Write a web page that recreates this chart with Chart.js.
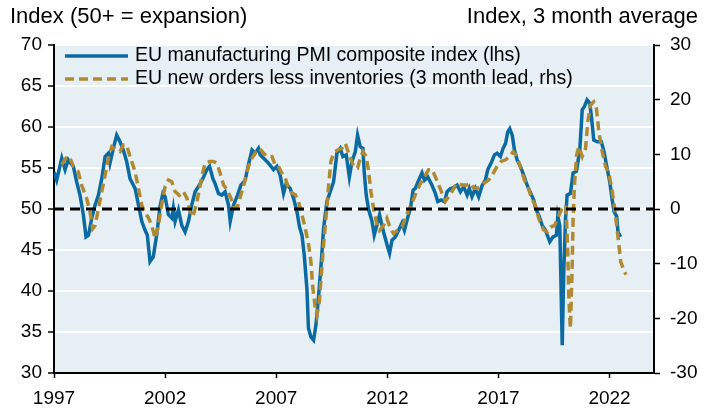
<!DOCTYPE html>
<html>
<head>
<meta charset="utf-8">
<script src="https://cdn.jsdelivr.net/npm/chart.js@4"></script>
<style>
  html, body { margin: 0; padding: 0; background: #fff; }
  #wrap { width: 716px; height: 409px; }
</style>
</head>
<body>
<div id="wrap"><canvas id="pmiChart" width="716" height="409"></canvas></div>
<script>
// EU manufacturing PMI composite index (lhs), monthly
var pmiYears = [1997.00,1997.12,1997.35,1997.50,1997.64,1997.87,1998.02,1998.17,1998.32,1998.44,1998.55,1998.70,1998.85,
  1999.00,1999.15,1999.30,1999.45,1999.52,1999.67,1999.82,1999.97,2000.12,2000.27,2000.42,2000.65,2000.80,2000.95,
  2001.10,2001.20,2001.32,2001.47,2001.63,2001.77,2001.90,2002.00,2002.15,2002.30,2002.37,2002.45,2002.60,2002.75,2002.90,
  2003.05,2003.20,2003.35,2003.58,2003.73,2003.88,2004.00,2004.15,2004.25,2004.40,2004.55,2004.70,2004.85,2004.93,
  2005.08,2005.26,2005.41,2005.60,2005.75,2005.91,2006.05,2006.20,2006.28,2006.50,2006.65,2006.88,2007.03,2007.18,
  2007.33,2007.45,2007.63,2007.78,2007.93,2008.05,2008.16,2008.26,2008.38,2008.45,2008.56,2008.68,2008.79,2008.91,
  2009.03,2009.13,2009.28,2009.43,2009.58,2009.73,2009.88,2010.00,2010.15,2010.29,2010.41,2010.56,2010.66,2010.78,
  2010.90,2010.96,2011.05,2011.16,2011.31,2011.41,2011.53,2011.65,2011.76,2011.83,2011.99,2012.10,2012.21,2012.36,
  2012.51,2012.66,2012.77,2012.91,2013.04,2013.16,2013.26,2013.41,2013.56,2013.67,2013.82,2014.01,2014.16,2014.27,
  2014.42,2014.57,2014.69,2014.84,2014.99,2015.14,2015.29,2015.44,2015.59,2015.69,2015.81,2015.96,2016.11,2016.27,
  2016.41,2016.52,2016.67,2016.82,2016.94,2017.09,2017.21,2017.32,2017.42,2017.51,2017.62,2017.72,2017.84,2017.99,
  2018.14,2018.29,2018.44,2018.59,2018.67,2018.82,2018.97,2019.12,2019.20,2019.31,2019.46,2019.61,2019.67,2019.76,
  2019.87,2019.94,2020.02,2020.09,2020.24,2020.36,2020.51,2020.66,2020.77,2020.87,2020.99,2021.11,2021.19,2021.29,
  2021.45,2021.63,2021.75,2021.86,2022.01,2022.12,2022.20,2022.32,2022.38,2022.50];
var pmiValues = [54.5,53.5,56.2,54.8,56.0,55.2,53.3,51.7,49.3,46.6,46.8,48.9,50.5,
  51.7,53.7,56.4,56.8,55.6,57.4,59.0,58.2,57.2,55.8,53.7,52.5,50.5,48.5,
  47.4,46.8,43.6,44.2,47.0,50.3,51.9,51.5,49.3,48.9,50.1,48.5,49.9,48.0,47.2,
  48.5,50.5,52.1,53.1,53.9,54.8,55.2,53.7,53.1,51.9,51.7,52.1,50.5,48.5,
  50.5,51.7,52.9,53.5,55.4,57.2,56.8,57.4,56.6,56.0,55.6,54.8,55.2,54.1,
  51.9,53.1,52.5,51.3,49.7,47.8,46.8,44.4,40.3,35.5,34.4,34.0,35.9,39.5,
  43.6,47.6,50.9,52.1,53.3,56.8,57.4,56.4,56.6,53.9,55.8,57.0,59.0,57.6,
  57.4,54.5,51.7,49.9,48.5,46.8,48.0,49.3,48.0,47.2,45.6,44.6,46.2,46.6,
  47.4,48.3,47.4,48.9,50.1,52.3,52.5,53.5,54.4,53.5,53.9,52.9,51.9,50.9,
  51.1,50.9,52.1,52.5,52.6,52.9,52.1,52.7,51.7,52.5,51.5,52.5,51.5,52.9,
  53.5,54.8,55.6,56.6,56.8,56.4,57.4,58.0,59.4,59.8,59.0,57.2,56.0,55.2,
  54.1,52.9,52.0,51.1,50.1,49.2,48.0,47.4,46.8,46.0,46.6,46.8,49.1,48.0,
  33.4,42.4,48.9,51.7,51.9,54.4,54.6,57.2,62.1,62.5,63.3,62.9,61.1,58.4,
  58.2,58.2,57.0,55.4,53.3,51.1,49.7,49.1,47.2,46.6];

// EU new orders less inventories, 3 month lead (rhs)
var noiYears = [1997.35,1997.54,1997.69,1997.87,1998.09,1998.25,1998.47,1998.62,1998.74,1998.85,1999.00,1999.15,1999.30,
  1999.45,1999.60,1999.82,1999.97,2000.12,2000.27,2000.42,2000.65,2000.80,2000.95,2001.10,2001.25,2001.40,2001.55,
  2001.70,2001.84,2002.00,2002.15,2002.30,2002.45,2002.64,2002.82,2002.98,2003.13,2003.25,2003.40,2003.55,2003.70,
  2003.80,2004.00,2004.18,2004.33,2004.48,2004.63,2004.79,2004.96,2005.11,2005.26,2005.41,2005.60,2005.75,2005.91,
  2006.10,2006.25,2006.43,2006.58,2006.81,2006.95,2007.10,2007.26,2007.41,2007.55,2007.71,2007.86,2008.00,2008.16,
  2008.31,2008.46,2008.56,2008.65,2008.76,2008.83,2008.94,2009.03,2009.13,2009.25,2009.36,2009.46,2009.58,2009.76,
  2009.96,2010.11,2010.26,2010.48,2010.66,2010.78,2010.90,2011.05,2011.16,2011.26,2011.38,2011.50,2011.65,2011.83,
  2011.98,2012.14,2012.28,2012.46,2012.66,2012.81,2012.96,2013.11,2013.26,2013.49,2013.67,2013.86,2014.01,2014.16,
  2014.31,2014.46,2014.61,2014.76,2014.91,2015.11,2015.36,2015.59,2015.74,2015.89,2016.05,2016.19,2016.34,2016.56,
  2016.76,2016.94,2017.12,2017.32,2017.51,2017.66,2017.84,2018.02,2018.17,2018.32,2018.52,2018.67,2018.82,2019.03,
  2019.20,2019.35,2019.53,2019.67,2019.82,2019.94,2020.04,2020.12,2020.16,2020.21,2020.24,2020.27,2020.32,2020.36,
  2020.42,2020.52,2020.62,2020.77,2020.92,2021.02,2021.14,2021.29,2021.41,2021.52,2021.67,2021.82,2021.97,2022.12,
  2022.23,2022.32,2022.42,2022.50,2022.66,2022.74];
var noiValues = [8.1,9.3,9.6,7.8,6.8,4.3,1.9,-0.5,-3.6,-3.0,0.1,3.2,6.2,
  9.3,11.4,10.8,10.5,11.7,11.7,9.6,6.8,3.8,0.7,-0.8,-1.6,-3.0,-5.4,
  -3.0,0.7,4.1,5.3,5.0,3.2,2.5,3.2,2.0,-0.5,-1.4,0.7,3.8,6.8,
  8.4,8.7,8.7,8.4,6.5,4.4,3.5,2.0,0.1,0.5,2.6,5.3,7.8,9.3,
  10.5,11.1,10.2,9.6,9.6,8.1,7.8,6.5,5.6,3.8,2.9,2.6,1.4,-1.1,
  -3.6,-6.6,-9.6,-14.5,-18.2,-19.4,-17.0,-12.0,-6.6,-1.1,4.4,8.7,10.2,10.8,
  11.1,12.0,10.2,7.8,7.5,9.3,10.5,9.6,6.8,3.2,0.1,-2.3,-3.9,-3.0,
  -1.7,-3.6,-4.5,-3.9,-3.3,-1.7,-0.2,1.1,2.6,4.7,5.9,7.2,7.2,5.9,
  4.4,2.9,1.4,2.3,3.2,4.7,4.4,4.4,4.7,3.8,3.8,4.1,4.7,5.3,
  6.5,7.8,8.7,9.0,9.6,10.5,9.6,7.2,5.3,4.1,1.7,0.6,-1.8,-3.8,
  -4.2,-3.3,-3.0,-1.7,-0.2,0.7,0.3,-7.8,-15.2,-19.9,-21.8,-17.5,-10.2,-1.7,
  4.4,9.9,11.4,9.6,11.1,15.9,19.0,19.6,18.4,14.1,10.5,7.8,6.5,3.2,
  0.1,-3.0,-6.6,-9.6,-11.4,-12.0];

var xTicks = [1997, 2002, 2007, 2012, 2017, 2022];
var refYears = [1997, 2024];
var refLevel = [50, 50];

var labelFont = { family: "'Liberation Sans', Arial, sans-serif", size: 19 };

function toPoints(xs, ys) {
    return xs.map(function (x, i) { return { x: x, y: ys[i] }; });
}

const plotBackground = {
    id: 'plotBackground',
    beforeDraw(chart) {
        const a = chart.chartArea;
        const ctx = chart.ctx;
        ctx.save();
        ctx.fillStyle = '#e6eff3';
        ctx.fillRect(a.left, a.top, a.right - a.left, a.bottom - a.top);
        ctx.restore();
    }
};

const textBits = {
    id: 'textBits',
    afterDraw(chart) {
        const ctx = chart.ctx;
        const a = chart.chartArea;
        ctx.save();
        ctx.fillStyle = '#000';
        ctx.font = "22px 'Liberation Sans', Arial, sans-serif";
        ctx.textBaseline = 'middle';
        ctx.textAlign = 'left';
        ctx.fillText('Index (50+ = expansion)', 10, 17);
        ctx.textAlign = 'right';
        ctx.fillText('Index, 3 month average', 698, 17);

        // legend
        ctx.textAlign = 'left';
        ctx.font = "19.5px 'Liberation Sans', Arial, sans-serif";
        ctx.lineWidth = 3.5;
        ctx.strokeStyle = '#0b6aa2';
        ctx.beginPath(); ctx.moveTo(a.left + 11, 56); ctx.lineTo(a.left + 74, 56); ctx.stroke();
        ctx.fillText('EU manufacturing PMI composite index (lhs)', a.left + 81, 56);
        ctx.strokeStyle = '#b08a33';
        ctx.lineWidth = 3.5;
        ctx.setLineDash([9, 5]);
        ctx.beginPath(); ctx.moveTo(a.left + 11, 79); ctx.lineTo(a.left + 74, 79); ctx.stroke();
        ctx.setLineDash([]);
        ctx.fillText('EU new orders less inventories (3 month lead, rhs)', a.left + 81, 79);
        ctx.restore();
    }
};

new Chart(document.getElementById('pmiChart').getContext('2d'), {
    type: 'line',
    data: {
        datasets: [
            {
                label: 'ref',
                data: toPoints(refYears, refLevel),
                borderColor: '#000',
                borderWidth: 3,
                borderDash: [10, 6],
                pointRadius: 0,
                yAxisID: 'y',
                order: 0
            },
            {
                label: 'EU new orders less inventories (3 month lead, rhs)',
                data: toPoints(noiYears, noiValues),
                borderColor: '#b08a33',
                borderWidth: 3.5,
                borderDash: [9, 5],
                pointRadius: 0,
                tension: 0,
                yAxisID: 'y2',
                order: 1
            },
            {
                label: 'EU manufacturing PMI composite index (lhs)',
                data: toPoints(pmiYears, pmiValues),
                borderColor: '#0b6aa2',
                borderWidth: 3.5,
                pointRadius: 0,
                tension: 0,
                yAxisID: 'y',
                order: 2
            }
        ]
    },
    options: {
        responsive: false,
        animation: false,
        layout: { padding: { top: 45, left: 0, right: 0, bottom: 0 } },
        plugins: {
            legend: { display: false },
            title: { display: false },
            tooltip: { enabled: false }
        },
        scales: {
            x: {
                type: 'linear',
                min: 1997,
                max: 2024,
                afterBuildTicks: function (s) { s.ticks = xTicks.map(function (v) { return { value: v }; }); },
                afterFit: function (s) { s.height = 36; },
                grid: { drawOnChartArea: false, tickColor: '#000', tickLength: 5, tickWidth: 1.5 },
                border: { color: '#000', width: 2 },
                ticks: {
                    color: '#000', font: labelFont, padding: 9, maxRotation: 0,
                    callback: function (v) { return String(v); }
                }
            },
            y: {
                type: 'linear',
                position: 'left',
                min: 30,
                max: 70,
                afterFit: function (s) { s.width = 54; },
                grid: { color: '#ffffff', lineWidth: 2, tickColor: '#000', tickLength: 6, tickWidth: 1.5 },
                border: { color: '#000', width: 2 },
                ticks: { stepSize: 5, color: '#000', font: labelFont, padding: 6 }
            },
            y2: {
                type: 'linear',
                position: 'right',
                min: -30,
                max: 30,
                afterFit: function (s) { s.width = 62; },
                grid: { drawOnChartArea: false, tickColor: '#000', tickLength: 6, tickWidth: 1.5 },
                border: { color: '#000', width: 2 },
                ticks: { stepSize: 10, color: '#000', font: labelFont, padding: 10 }
            }
        }
    },
    plugins: [plotBackground, textBits]
});
</script>
</body>
</html>
